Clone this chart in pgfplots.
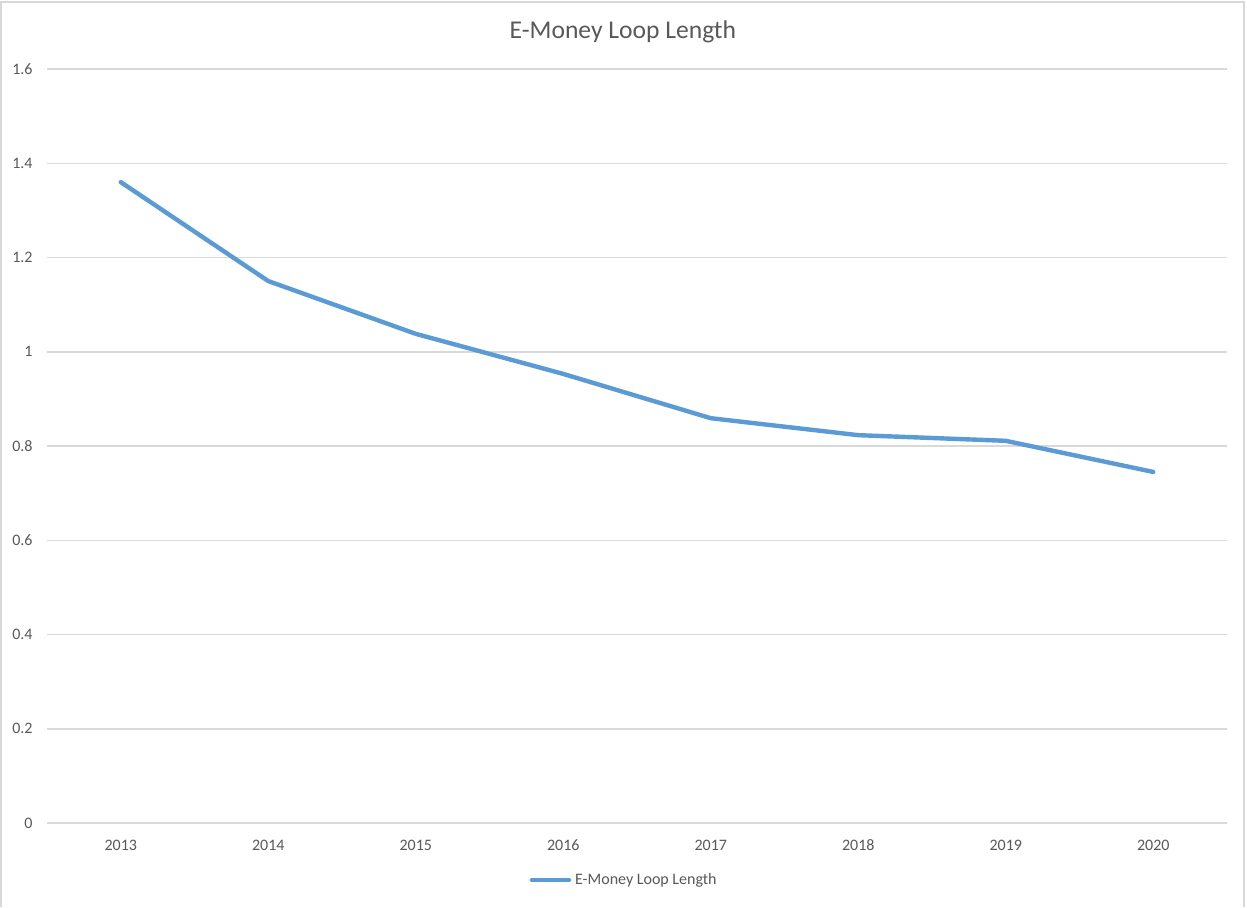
\documentclass[border=0pt]{standalone}
\usepackage{pgfplots}
\pgfplotsset{compat=1.18}
\usepackage{fontspec}
\setmainfont{Carlito}
\definecolor{linecol}{HTML}{5B9BD5}
\definecolor{gridcol}{HTML}{D9D9D9}
\definecolor{textcol}{HTML}{595959}

\pgfplotstableread{
idx year value
0 2013 1.360
1 2014 1.150
2 2015 1.038
3 2016 0.953
4 2017 0.859
5 2018 0.823
6 2019 0.811
7 2020 0.745
}\loopdata

\begin{document}
\begin{tikzpicture}
% page frame
\useasboundingbox (-23.5pt,-42pt) rectangle (600pt,411.5pt);
\fill[white] (-23.5pt,-42pt) rectangle (600pt,411.5pt);
\draw[gridcol, line width=0.75pt] (-23pt,-42pt) -- (-23pt,410.5pt) -- (598.5pt,410.5pt) -- (598.5pt,-42pt);
\begin{axis}[
  at={(0,0)}, anchor=south west,
  scale only axis,
  width=590pt, height=377pt,
  xmin=-0.5, xmax=7.5,
  ymin=0, ymax=1.6,
  xtick={0,...,7},
  xticklabels={2013,2014,2015,2016,2017,2018,2019,2020},
  ytick={0,0.2,...,1.6},
  /pgf/number format/assume math mode=true,
  axis line style={draw=none},
  tick style={draw=none},
  ymajorgrids,
  major grid style={gridcol, line width=0.75pt},
  ticklabel style={font=\fontsize{8}{9.6}\selectfont, text=textcol, inner sep=0pt},
  yticklabel style={anchor=east, xshift=-7pt},
  xticklabel style={anchor=center, yshift=-11pt},
  title={E-Money Loop Length},
  every axis title shift=0pt,
  title style={at={(0.488,1.049)}, anchor=center, font=\fontsize{12.8}{15}\selectfont, text=textcol},
  legend style={at={(0.49,-0.0756)}, anchor=center, draw=none, fill=none,
    font=\fontsize{8}{9.6}\selectfont, text=textcol, inner sep=0pt,
    /tikz/every even column/.append style={column sep=0pt}},
  legend cell align=left,
  legend image code/.code={\draw[#1] (0pt,0pt) -- (18.5pt,0pt);},
  clip=false,
]
\addplot[linecol, line width=2.2pt, line join=round, line cap=round] table[x=idx, y=value] {\loopdata};
\addlegendentry{E-Money Loop Length}
\end{axis}
\end{tikzpicture}
\end{document}
